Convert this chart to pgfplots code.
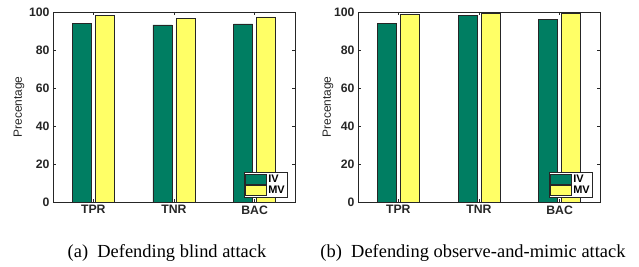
\documentclass[border=0pt]{standalone}
\usepackage{pgfplots}
\pgfplotsset{compat=1.18}
\usepackage{fontspec}
\setmainfont{Liberation Serif}
\newfontfamily\hv{Liberation Sans}
\definecolor{ivgreen}{RGB}{0,126,98}
\definecolor{mvyellow}{RGB}{255,255,102}
\definecolor{axgray}{RGB}{38,38,38}
\pgfplotstableread{
x iv mv
1 94.2 98.2
2 93.2 96.5
3 93.7 97.4
}\blind
\pgfplotstableread{
x iv mv
1 94.2 98.8
2 98.1 99.3
3 96.2 99.1
}\mimic
\pgfplotsset{
  mystyle/.style={
    scale only axis, width=242bp, height=190bp,
    ybar=4bp, bar width=19bp,
    xmin=0.5, xmax=3.5, ymin=0, ymax=100,
    xtick={1,2,3}, xticklabels={TPR,TNR,BAC},
    ytick={0,20,40,60,80,100},
    tick align=inside, tick pos=both,
    major tick length=3bp,
    axis line style={axgray, line width=0.5bp},
    every tick/.style={axgray, line width=0.5bp},
    /pgf/number format/assume math mode=true,
    ticklabel style={font=\hv\bfseries\fontsize{12.3}{14}\selectfont, text=axgray},
    ylabel={Precentage},
    ylabel style={font=\hv\fontsize{12}{14}\selectfont, text=axgray},
    legend cell align=left,
    legend style={at={(rel axis cs:0.967,0.026)}, anchor=south east,
      font=\hv\bfseries\fontsize{11}{12}\selectfont, draw=axgray, line width=0.5bp,
      inner sep=0.5bp, row sep=-1bp, nodes={inner sep=1.5bp}, cells={anchor=west}},
    area legend,
    legend image code/.code={\draw[#1] (0bp,-5bp) rectangle (21bp,5bp);},
  }
}
\begin{document}
\begin{tikzpicture}
\useasboundingbox (0,0) rectangle (639bp,267bp);
\begin{axis}[mystyle, at={(53bp,65bp)}, anchor=south west,
  ylabel style={at={(axis description cs:-0.14,0.5)}, anchor=center}]
\addplot[fill=ivgreen, draw=black!85, line width=0.6bp] table[x=x,y=iv]{\blind};
\addplot[fill=mvyellow, draw=black!85, line width=0.6bp] table[x=x,y=mv]{\blind};
\legend{IV,MV}
\end{axis}
\begin{axis}[mystyle, at={(358bp,65bp)}, anchor=south west,
  ylabel style={at={(axis description cs:-0.124,0.5)}, anchor=center}]
\addplot[fill=ivgreen, draw=black!85, line width=0.6bp] table[x=x,y=iv]{\mimic};
\addplot[fill=mvyellow, draw=black!85, line width=0.6bp] table[x=x,y=mv]{\mimic};
\legend{IV,MV}
\end{axis}
\node[font=\fontsize{18.5}{20}\selectfont, anchor=center] at (167bp,14bp) {(a)\ \ Defending blind attack};
\node[font=\fontsize{18.5}{20}\selectfont, anchor=center] at (473bp,14bp) {(b)\ \ Defending observe-and-mimic attack};
\end{tikzpicture}
\end{document}
